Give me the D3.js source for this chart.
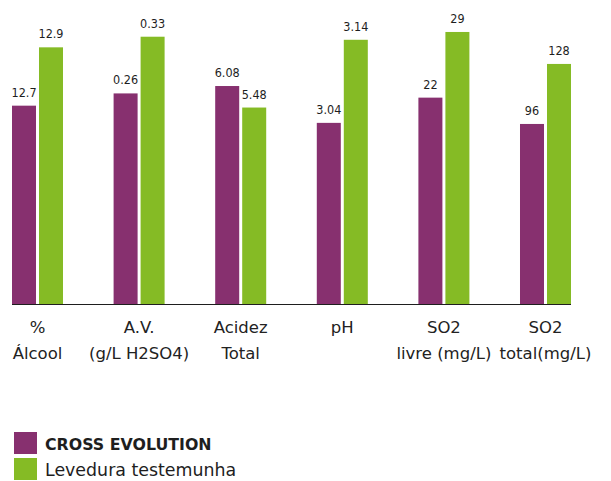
<!DOCTYPE html>
<html>
<head>
<meta charset="utf-8">
<script src="https://cdn.jsdelivr.net/npm/d3@7"></script>
<style>
  html, body { margin: 0; padding: 0; background: #fff; }
  svg { display: block; }
</style>
</head>
<body>
<svg id="chart" width="611" height="481"></svg>
<script>
// ---- data ----
const categories = ["% Álcool", "A.V. (g/L H2SO4)", "Acidez Total", "pH", "SO2 livre (mg/L)", "SO2 total(mg/L)"];
const categoryLines = [["%", "Álcool"], ["A.V.", "(g/L H2SO4)"], ["Acidez", "Total"], ["pH"], ["SO2", "livre (mg/L)"], ["SO2", "total(mg/L)"]];
const seriesNames = ["CROSS EVOLUTION", "Levedura testemunha"];
const crossEvolution = [12.7, 0.26, 6.08, 3.04, 22, 96];
const levedura = [12.9, 0.33, 5.48, 3.14, 29, 128];
const valueLabels = [["12.7", "12.9"], ["0.26", "0.33"], ["6.08", "5.48"], ["3.04", "3.14"], ["22", "29"], ["96", "128"]];
// each category is drawn on its own value axis (domain min / max)
const axisMin = [12.02, 0, 0, 2.822, 0, 0];
const axisMax = [12.98, 0.3457, 7.81, 3.159, 29.85, 149.3];

const colors = ["#87306f", "#85bb25"];

// ---- layout ----
const svg = d3.select("#chart");
const baseY = 304, topY = 24;

const x0 = d3.scaleBand().domain(categories).range([12, 571]).paddingInner(0.498).paddingOuter(0);
const x1 = d3.scaleBand().domain(seriesNames).range([0, x0.bandwidth()]).paddingInner(0.111).paddingOuter(0);
const yScales = categories.map((c, i) => d3.scaleLinear().domain([axisMin[i], axisMax[i]]).range([baseY, topY]));

const rows = categories.map((c, i) => ({
  cat: c, i,
  vals: [crossEvolution[i], levedura[i]]
}));

const groups = svg.selectAll("g.grp").data(rows).join("g")
  .attr("class", "grp")
  .attr("transform", d => `translate(${x0(d.cat)},0)`);

groups.selectAll("rect").data(d => d.vals.map((v, k) => ({ v, k, i: d.i }))).join("rect")
  .attr("x", d => x1(seriesNames[d.k]))
  .attr("width", x1.bandwidth())
  .attr("y", d => yScales[d.i](d.v))
  .attr("height", d => baseY - yScales[d.i](d.v))
  .attr("fill", d => colors[d.k]);

groups.selectAll("text.val").data(d => d.vals.map((v, k) => ({ v, k, i: d.i }))).join("text")
  .attr("class", "val")
  .attr("x", d => x1(seriesNames[d.k]) + x1.bandwidth() / 2)
  .attr("y", d => yScales[d.i](d.v) - 9)
  .attr("text-anchor", "middle")
  .attr("font-family", "'DejaVu Sans Condensed', 'DejaVu Sans', sans-serif")
  .attr("font-size", 12.5)
  .attr("fill", "#1e1e1e")
  .text(d => valueLabels[d.i][d.k]);

// axis line
svg.append("line")
  .attr("x1", x0.range()[0]).attr("x2", x0.range()[1])
  .attr("y1", baseY + 0.5).attr("y2", baseY + 0.5)
  .attr("stroke", "#1e1e1e").attr("stroke-width", 1.2);

// category labels
const lbl = svg.selectAll("text.cat").data(rows).join("text")
  .attr("class", "cat")
  .attr("text-anchor", "middle")
  .attr("font-family", "'DejaVu Sans', sans-serif")
  .attr("font-size", 16.5)
  .attr("fill", "#222");
lbl.selectAll("tspan").data(d => categoryLines[d.i].map(t => ({ t, c: d.cat }))).join("tspan")
  .attr("x", d => x0(d.c) + x0.bandwidth() / 2)
  .attr("y", (d, j) => 333 + j * 26)
  .text(d => d.t);

// legend
const leg = svg.selectAll("g.leg").data(seriesNames).join("g")
  .attr("class", "leg")
  .attr("transform", (d, k) => `translate(14,${432 + k * 26})`);
leg.append("rect").attr("width", 23).attr("height", 22).attr("fill", (d, k) => colors[k]);
leg.append("text")
  .attr("x", 31).attr("y", 18)
  .attr("font-family", "'DejaVu Sans', sans-serif")
  .attr("font-size", (d, k) => k === 0 ? 15.8 : 17.4)
  .attr("font-weight", (d, k) => k === 0 ? "bold" : "normal")
  .attr("fill", "#1e1e1e")
  .text(d => d);
</script>
</body>
</html>
